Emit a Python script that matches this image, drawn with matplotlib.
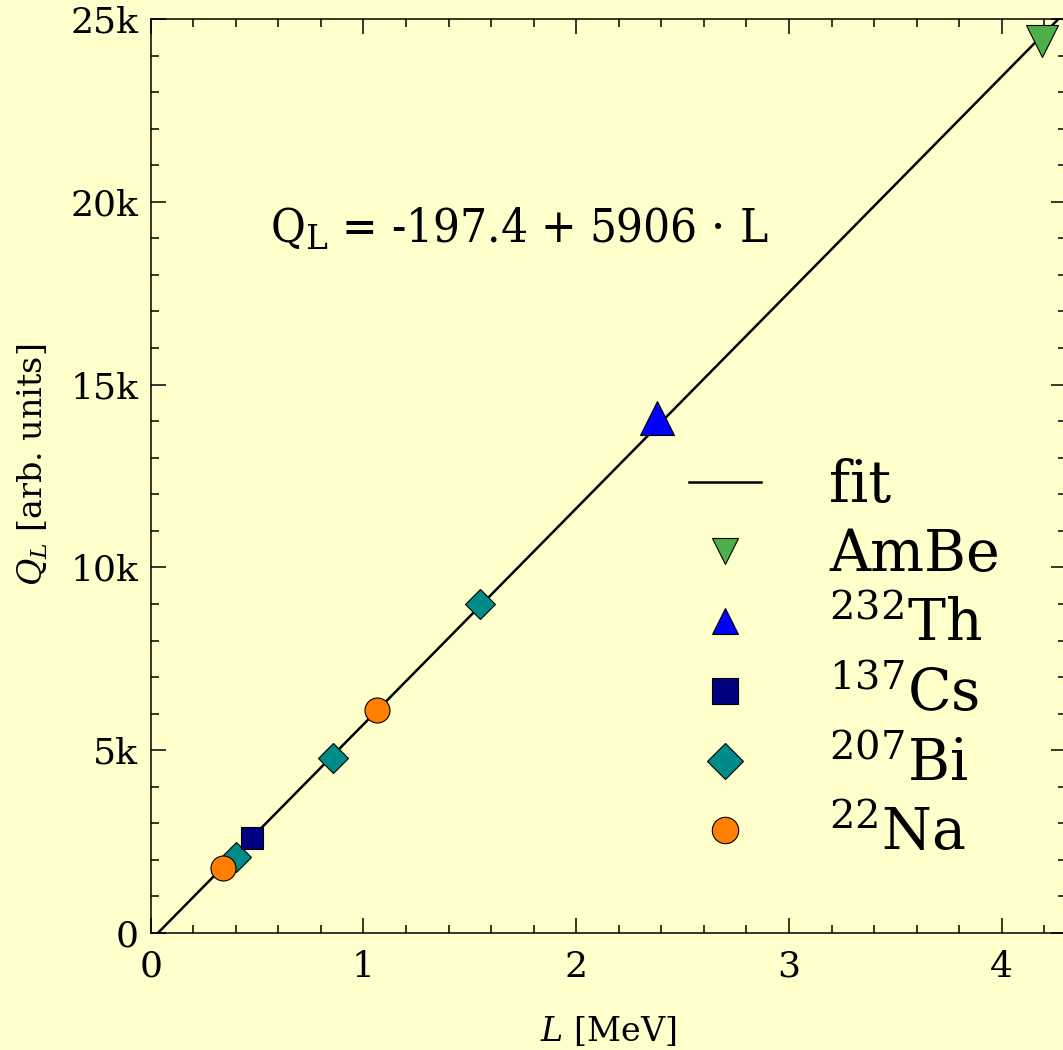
import matplotlib
matplotlib.use("Agg")
import matplotlib.pyplot as plt
from matplotlib.ticker import MultipleLocator, FuncFormatter
import numpy as np

# linear fit Q_L = offset + slope * L
fit_offset = -197.4
fit_slope = 5906

# calibration points (L in MeV, Q_L in arb. units)
ambe_L = [4.19]
ambe_Q = [24400]
th_L = [2.38]
th_Q = [14100]
cs_L = [0.477]
cs_Q = [2600]
bi_L = [0.402, 0.857, 1.548]
bi_Q = [2080, 4790, 9000]
na_L = [0.340, 1.064]
na_Q = [1780, 6100]

bg = "#ffffcc"
plt.rcParams["font.family"] = ["DejaVu Serif"]
plt.rcParams["mathtext.fontset"] = "dejavuserif"

fig = plt.figure(figsize=(10.63, 10.5), dpi=100, facecolor=bg)
ax = fig.add_axes([0.1418, 0.1114, 0.8606, 0.8705], facecolor=bg)

# fit line
xs = np.array([0.0, 4.5])
fit_line, = ax.plot(xs, fit_offset + fit_slope * xs, color="black", lw=1.8, zorder=2)

ms_kw = dict(linestyle="none", markeredgecolor="black", markeredgewidth=0.8)
h_bi, = ax.plot(bi_L, bi_Q, marker="D", ms=15.5, color="#008b8b", zorder=3, **ms_kw)
h_cs, = ax.plot(cs_L, cs_Q, marker="s", ms=16.5, color="#000080", zorder=4, **ms_kw)
h_na, = ax.plot(na_L, na_Q, marker="o", ms=18, color="#ff8000", zorder=5, **ms_kw)
h_th, = ax.plot(th_L, th_Q, marker="^", ms=24, color="#0000ff", zorder=4, **ms_kw)
h_ambe, = ax.plot(ambe_L, ambe_Q, marker="v", ms=23, color="#4daf4a", zorder=4, **ms_kw)

ax.set_xlim(0, 4.3)
ax.set_ylim(0, 25000)

ax.xaxis.set_major_locator(MultipleLocator(1))
ax.xaxis.set_minor_locator(MultipleLocator(0.2))
ax.yaxis.set_major_locator(MultipleLocator(5000))
ax.yaxis.set_minor_locator(MultipleLocator(1000))
ax.yaxis.set_major_formatter(FuncFormatter(lambda v, p: "0" if v == 0 else f"{v/1000:.0f}k"))

ax.tick_params(which="both", direction="in", top=True, right=True, width=1.1, labelsize=26)
ax.tick_params(which="major", length=11)
ax.tick_params(which="minor", length=5.5)
ax.tick_params(axis="x", pad=12)
ax.tick_params(axis="y", pad=9)
for s in ax.spines.values():
    s.set_linewidth(1.1)

ax.set_xlabel(r"$L$ [MeV]", fontsize=24)
ax.set_ylabel(r"$Q_L$ [arb. units]", fontsize=24)
ax.xaxis.set_label_coords(0.5, -0.089)
ax.yaxis.set_label_coords(-0.110, 0.512)

ax.text(0.561, 18870, r"Q$_\mathrm{L}$ = -197.4 + 5906 $\cdot$ L", fontsize=34, va="baseline",
        family=["DejaVu Serif Condensed", "DejaVu Serif"], fontstretch="condensed")

leg = ax.legend(
    [fit_line, h_ambe, h_th, h_cs, h_bi, h_na],
    ["fit", "AmBe", r"$^{232}$Th", r"$^{137}$Cs", r"$^{207}$Bi", r"$^{22}$Na"],
    loc="upper left", bbox_to_anchor=(0.588, 0.52), frameon=False, fontsize=41,
    handlelength=1.27, handletextpad=1.2, labelspacing=0.24, borderpad=0, borderaxespad=0,
)
for h in leg.legend_handles[1:]:
    h.set_markersize(19)
leg.legend_handles[4].set_markersize(18)

fig.savefig("out.png", dpi=100, facecolor=bg)
